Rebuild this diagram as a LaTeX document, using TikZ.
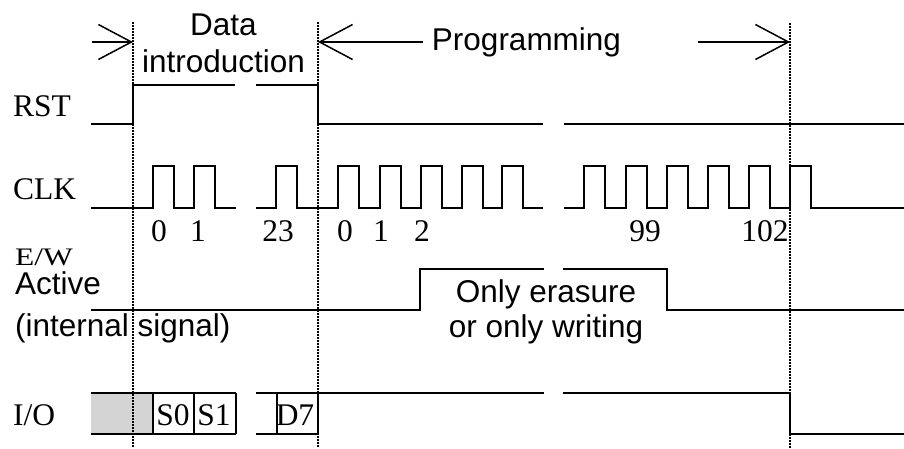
\documentclass[tikz,border=0pt]{standalone}
\usepackage{fontspec}
\setmainfont{Liberation Serif}
\newfontfamily\arialfont{Liberation Sans}
\usetikzlibrary{arrows.meta}

\tikzset{
  sig/.style={line width=1.8pt, line join=miter},
  guide/.style={line width=1.6pt, dash pattern=on 1.5pt off 1.5pt},
  serif/.style={font=\fontsize{31.5}{36}\selectfont, inner sep=0pt},
  sans/.style={font=\arialfont\fontsize{31.5}{36}\selectfont, inner sep=0pt},
  span/.style={line width=1.5pt, -{Straight Barb[length=33pt,width=35pt]}},
  idle/.style={fill=black!17, draw=none}
}

\begin{document}
\begin{tikzpicture}[x=1pt, y=-1pt]
  \useasboundingbox (0,0) rectangle (904,448);

  % signal names
  \node[serif, anchor=base west] (rst)  at (13,116) {RST};
  \node[serif, anchor=base west] (clk)  at (13,199) {CLK};
  \node[serif, anchor=base west] (ew)   at (15,265) {\scalebox{1}[0.8]{E/W}};
  \node[sans,  anchor=base west] (act)  at (15,294) {Active};
  \node[sans,  anchor=base west] (intl) at (15,336) {(internal signal)};
  \node[serif, anchor=base west] (io)   at (13,425) {I/O};

  % phase captions
  \node[sans, anchor=base] (data)  at (223.5,35) {Data};
  \node[sans, anchor=base] (intro) at (223.5,72) {introduction};
  \node[sans, anchor=base] (prog)  at (526.5,50) {Programming};

  % phase span arrows
  \coordinate (a1) at (92,42);   \coordinate (t1) at (133,42);
  \coordinate (a2) at (423,42);  \coordinate (t2) at (318,42);
  \coordinate (a3) at (698,42);  \coordinate (t3) at (790,42);
  \draw[span] (a1) -- (t1);
  \draw[span] (a2) -- (t2);
  \draw[span] (a3) -- (t3);

  % I/O idle region (shaded)
  \fill[idle] (91,393) rectangle (153,434);

  % RST
  \draw[sig] (91,124) -- (133,124) -- (133,85) -- (235,85);
  \draw[sig] (256,85) -- (318,85) -- (318,124) -- (543,124);
  \draw[sig] (564,124) -- (904,124);

  % CLK
  \draw[sig] (91,208) foreach \r in {153,194} { -- (\r,208) -- (\r,166) -- (\r+21,166) -- (\r+21,208) } -- (236,208);
  \draw[sig] (256,208) foreach \r in {276,338,380,421,462,502} { -- (\r,208) -- (\r,166) -- (\r+21,166) -- (\r+21,208) } -- (543,208);
  \draw[sig] (564,208) foreach \r in {584,626,667,708,749,790} { -- (\r,208) -- (\r,166) -- (\r+21,166) -- (\r+21,208) } -- (904,208);

  % clock numbers
  \foreach \x/\t/\n in {159/0/c0, 198/1/c1, 278/23/c23, 345/0/d0, 381/1/d1, 422/2/d2, 645/99/d99, 765/102/d102}
    \node[serif, anchor=base] (\n) at (\x,241) {\t};

  % E/W active
  \draw[sig] (91,310) -- (420,310) -- (420,269) -- (544,269);
  \draw[sig] (563,269) -- (667,269) -- (667,310) -- (904,310);
  \node[sans, anchor=base] (ew1) at (546,302) {Only erasure};
  \node[sans, anchor=base] (ew2) at (546,337) {or only writing};

  % I/O
  \draw[sig] (91,393) -- (236,393);
  \draw[sig] (91,434) -- (236,434);
  \draw[sig] (153,393) -- (153,434);
  \draw[sig] (194,393) -- (194,434);
  \draw[sig] (236,393) -- (236,434);
  \draw[sig] (256,393) -- (318,393);
  \draw[sig] (256,434) -- (318,434);
  \draw[sig] (277,393) -- (277,434);
  \draw[sig] (318,434) -- (318,393) -- (544,393);
  \draw[sig] (563,393) -- (790,393) -- (790,434) -- (904,434);
  \node[serif, anchor=base] (s0) at (173,425) {S0};
  \node[serif, anchor=base] (s1) at (214,425) {S1};
  \node[serif, anchor=base] (d7) at (295,425) {D7};

  % phase boundaries
  \draw[guide] (133,22) -- (133,448);
  \draw[guide] (318,22) -- (318,448);
  \draw[guide] (790,23) -- (790,448);
\end{tikzpicture}
\end{document}
